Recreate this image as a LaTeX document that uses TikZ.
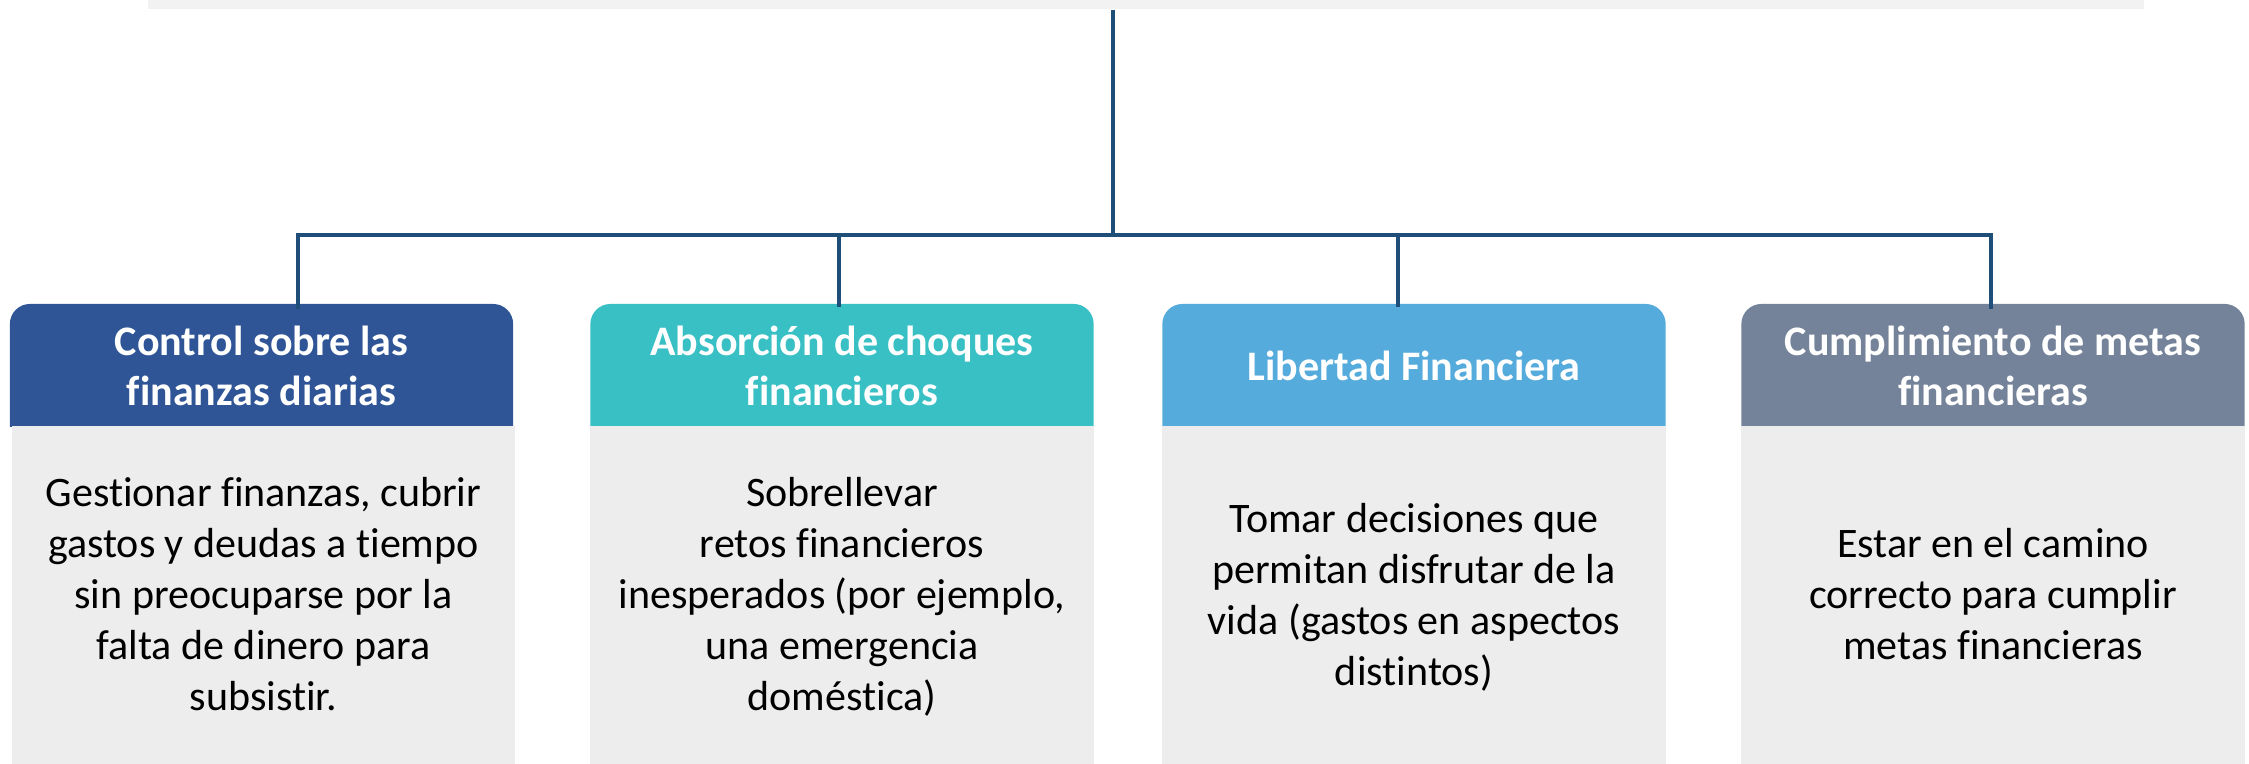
\documentclass[tikz,border=0pt]{standalone}
\usepackage{fontspec}
\setmainfont{Carlito}[Ligatures=NoCommon]
\definecolor{linkblue}{HTML}{1F4E79}
\definecolor{headA}{HTML}{2F5597}
\definecolor{headB}{HTML}{38C0C5}
\definecolor{headC}{HTML}{55ABDB}
\definecolor{headD}{HTML}{748399}
\definecolor{bodygray}{HTML}{EDEDED}
\definecolor{topgray}{HTML}{F2F2F2}
\newcommand{\linestrut}{\rule[-0.12cm]{0pt}{0.35cm}}

\begin{document}
\begin{tikzpicture}[x=0.01cm,y=-0.01cm]
    \tikzset{
        header/.style={rectangle,inner sep=0pt,minimum width=5.03cm,minimum height=1.22cm,
            align=center,text=white,font=\fontsize{11.95}{14.2}\selectfont\bfseries,
            execute at begin node=\linestrut,execute at end node=\linestrut,
            path picture={\fill[#1,rounded corners=0.2cm]
                ([yshift=-0.4cm]path picture bounding box.south west) rectangle (path picture bounding box.north east);}},
        bodybox/.style={rectangle,inner sep=0pt,minimum width=5.03cm,minimum height=3.48cm,
            align=center,fill=bodygray,font=\fontsize{11.95}{14.5}\selectfont,
            execute at begin node=\linestrut,execute at end node=\linestrut},
        link/.style={draw=linkblue,line width=0.04cm}
    }
    \useasboundingbox (0,0) rectangle (2249,764);
    % parent strip at the top
    \node[fill=topgray,inner sep=0pt,minimum width=19.94cm,minimum height=0.09cm] (root) at (1146,4.5) {};

    % headers (the box runs from y=304 to 426, text a bit lower)
    \node[header=headA] (head1) at (261.5,365) {};
    \node[header=headB] (head2) at (842,365) {};
    \node[header=headC] (head3) at (1414,365) {};
    \node[header=headD] (head4) at (1993,365) {};
    \node[align=center,text=white,font=\fontsize{11.95}{14.2}\selectfont\bfseries,
        execute at begin node=\linestrut,execute at end node=\linestrut] (title1) at (261.5,371.5) {Control sobre las\\finanzas diarias};
    \node[align=center,text=white,font=\fontsize{11.95}{14.2}\selectfont\bfseries,
        execute at begin node=\linestrut,execute at end node=\linestrut] (title2) at (842,371.5) {Absorción de choques\\financieros};
    \node[align=center,text=white,font=\fontsize{11.95}{14.2}\selectfont\bfseries,
        execute at begin node=\linestrut,execute at end node=\linestrut] (title3) at (1414,371.5) {Libertad Financiera};
    \node[align=center,text=white,font=\fontsize{11.95}{14.2}\selectfont\bfseries,
        execute at begin node=\linestrut,execute at end node=\linestrut] (title4) at (1993,371.5) {Cumplimiento de metas\\financieras};

    % bodies
    \node[bodybox] (body1) at (263.5,600) {Gestionar finanzas, cubrir\\gastos y deudas a tiempo\\sin preocuparse por la\\falta de dinero para\\subsistir.};
    \node[bodybox] (body2) at (842,600) {Sobrellevar\\retos financieros\\inesperados (por ejemplo,\\una emergencia\\doméstica)};
    \node[bodybox] (body3) at (1414,600) {Tomar decisiones que\\permitan disfrutar de la\\vida (gastos en aspectos\\distintos)};
    \node[bodybox] (body4) at (1993,600) {Estar en el camino\\correcto para cumplir\\metas financieras};

    % connectors
    \coordinate (hub) at (1113,235);
    \coordinate (d1) at (298,235);
    \coordinate (d2) at (839,235);
    \coordinate (d3) at (1398,235);
    \coordinate (d4) at (1991,235);
    \draw[link] (hub |- root.south) -- (hub);
    \draw[link] ([yshift=-0.06cm]d1 |- head1.north) -- (d1) -- (d4) -- ([yshift=-0.06cm]d4 |- head4.north);
    \foreach \i in {2,3}
        \draw[link] (d\i) -- ([yshift=-0.04cm]d\i |- head\i.north);
\end{tikzpicture}
\end{document}
